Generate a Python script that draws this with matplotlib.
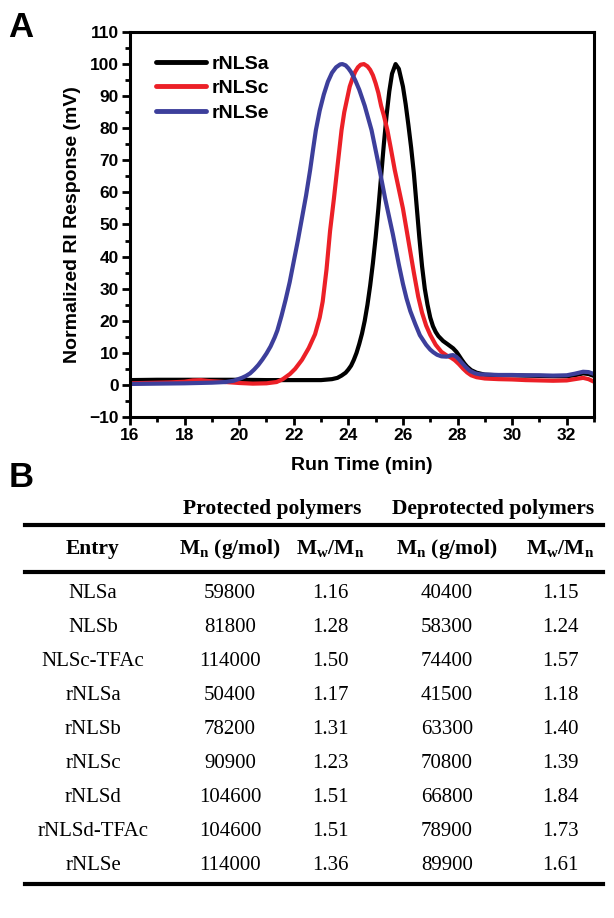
import matplotlib
matplotlib.use("Agg")
import matplotlib.pyplot as plt
from matplotlib.lines import Line2D
from matplotlib.ticker import MultipleLocator

plt.rcParams['font.family'] = ['Liberation Sans', 'DejaVu Sans']
plt.rcParams['mathtext.fontset'] = 'custom'
plt.rcParams['mathtext.rm'] = 'Liberation Serif'
plt.rcParams['mathtext.bf'] = 'Liberation Serif:bold'

# ---- panel A: GPC traces ----
t_a = [16.0, 17.0, 18.0, 19.0, 20.0, 21.0, 22.0, 23.0, 23.4, 23.6, 23.75, 23.9,
       24.0, 24.1, 24.2, 24.3, 24.4, 24.5, 24.6, 24.7, 24.8, 24.9, 25.0, 25.1,
       25.2, 25.3, 25.4, 25.5, 25.6, 25.73, 25.85, 26.0, 26.1, 26.2, 26.3, 26.4,
       26.5, 26.6, 26.7, 26.8, 26.9, 27.0, 27.1, 27.2, 27.3, 27.47, 27.65, 27.84,
       27.96, 28.05, 28.15, 28.25, 28.35, 28.5, 28.7, 29.0, 29.5, 30.0, 30.5,
       31.0, 31.5, 32.0, 32.3, 32.6, 32.8, 33.0]
v_a = [1.5, 1.6, 1.6, 1.6, 1.6, 1.5, 1.5, 1.5, 1.8, 2.2, 2.9, 3.8,
       4.8, 6.0, 7.8, 10.0, 12.8, 16.0, 20.0, 25.0, 31.0, 38.0, 46.0, 55.0,
       65.0, 75.0, 84.0, 91.5, 97.0, 100.0, 98.5, 93.0, 87.5, 81.0, 74.0, 66.0,
       56.0, 46.0, 37.0, 30.0, 25.0, 21.0, 18.3, 16.5, 15.2, 13.7, 12.6, 11.4,
       10.3, 9.2, 7.9, 6.7, 5.7, 4.6, 3.8, 3.2, 3.0, 3.0, 2.9,
       2.8, 2.7, 2.7, 3.0, 3.6, 3.4, 2.8]

t_c = [16.0, 16.5, 17.0, 17.5, 18.0, 18.3, 18.6, 18.9, 19.5, 20.0, 20.5, 21.0,
       21.37, 21.6, 21.86, 22.05, 22.3, 22.55, 22.78, 22.95, 23.06, 23.2, 23.33,
       23.47, 23.6, 23.75, 23.85, 23.95, 24.05, 24.15, 24.25, 24.35, 24.45, 24.57,
       24.7, 24.8, 24.9, 25.0, 25.1, 25.2, 25.3, 25.43, 25.55, 25.7, 25.85, 26.0,
       26.2, 26.4, 26.56, 26.7, 26.85, 27.0, 27.2, 27.41, 27.6, 27.78, 27.9, 28.05,
       28.2, 28.35, 28.5, 28.7, 29.0, 29.5, 30.0, 30.5, 31.0, 31.5, 32.0, 32.3,
       32.6, 32.8, 33.0]
v_c = [0.5, 0.6, 0.7, 0.8, 1.0, 1.4, 1.5, 1.2, 0.9, 0.6, 0.4, 0.5,
       0.9, 1.8, 3.4, 5.0, 7.8, 11.5, 15.8, 21.0, 26.0, 36.0, 48.0,
       58.0, 68.0, 79.4, 85.0, 89.0, 93.0, 95.5, 97.6, 99.0, 99.8, 100.0,
       99.3, 98.2, 96.5, 94.0, 91.0, 87.0, 84.0, 79.4, 74.0, 67.0, 61.0, 55.0,
       45.0, 35.0, 27.5, 22.5, 18.5, 15.6, 12.5, 10.3, 9.2, 8.4, 7.7, 6.5,
       5.1, 3.9, 3.0, 2.4, 2.0, 1.8, 1.7, 1.5, 1.4, 1.3, 1.4, 1.8,
       2.2, 1.8, 1.0]

t_e = [16.0, 17.0, 18.0, 19.0, 19.5, 19.8, 20.1, 20.25, 20.4, 20.55, 20.7, 20.85,
       21.0, 21.15, 21.3, 21.4, 21.55, 21.7, 21.85, 22.0, 22.15, 22.3, 22.45,
       22.6, 22.7, 22.81, 22.95, 23.1, 23.25, 23.4, 23.55, 23.7, 23.78, 23.9,
       24.0, 24.1, 24.25, 24.4, 24.6, 24.85, 25.1, 25.35, 25.63, 25.85, 26.0,
       26.13, 26.27, 26.45, 26.62, 26.85, 27.0, 27.11, 27.25, 27.41, 27.6, 27.75,
       27.84, 27.95, 28.05, 28.15, 28.3, 28.45, 28.65, 28.82, 29.5, 30.0, 30.5,
       31.0, 31.5, 32.0, 32.3, 32.6, 32.8, 33.0]
v_e = [0.3, 0.4, 0.5, 0.7, 0.9, 1.3, 2.2, 2.8, 3.6, 4.8, 6.2, 7.9,
       9.8, 12.0, 14.8, 17.0, 21.5, 26.5, 32.0, 38.5, 45.0, 52.0, 59.0,
       67.0, 73.0, 79.4, 85.5, 90.5, 94.5, 97.3, 99.0, 99.9, 100.0, 99.6,
       98.7, 97.5, 95.0, 92.0, 87.0, 79.4, 69.0, 58.0, 47.0, 37.5, 31.5,
       27.0, 23.0, 19.0, 15.5, 12.5, 11.0, 10.2, 9.4, 8.9, 8.8, 9.2,
       9.3, 8.8, 8.0, 7.0, 5.6, 4.4, 3.6, 3.3, 3.1, 3.1, 3.0,
       3.0, 2.9, 3.0, 3.5, 4.1, 4.0, 3.4]

# ---- panel B: table ----
groups = ["Protected polymers", "Deprotected polymers"]
col_heads = ["Entry", r"M$_{\mathbf{n}}$ (g/mol)", r"M$_{\mathbf{w}}$/M$_{\mathbf{n}}$",
             r"M$_{\mathbf{n}}$ (g/mol)", r"M$_{\mathbf{w}}$/M$_{\mathbf{n}}$"]
entries = ["NLSa", "NLSb", "NLSc-TFAc", "rNLSa", "rNLSb", "rNLSc", "rNLSd",
           "rNLSd-TFAc", "rNLSe"]
mn_prot = ["59800", "81800", "114000", "50400", "78200", "90900", "104600",
           "104600", "114000"]
pdi_prot = ["1.16", "1.28", "1.50", "1.17", "1.31", "1.23", "1.51", "1.51", "1.36"]
mn_deprot = ["40400", "58300", "74400", "41500", "63300", "70800", "66800",
             "78900", "89900"]
pdi_deprot = ["1.15", "1.24", "1.57", "1.18", "1.40", "1.39", "1.84", "1.73", "1.61"]

W, H = 614, 918
fig = plt.figure(figsize=(W / 100, H / 100), dpi=100)
fig.patch.set_facecolor('white')

ax = fig.add_axes([130 / W, 1 - 417 / H, 464 / W, 385 / H])
style = dict(lw=3, solid_joinstyle='round', solid_capstyle='round')
ax.plot(t_a, v_a, color='black', label='rNLSa', **style)
ax.plot(t_c, v_c, color='#ec2027', label='rNLSc', **style)
ax.plot(t_e, v_e, color='#3d3f9b', label='rNLSe', **style)

ax.set_xlim(16, 33)
ax.set_ylim(-10, 110)
ax.xaxis.set_major_locator(MultipleLocator(2))
ax.xaxis.set_minor_locator(MultipleLocator(1))
ax.yaxis.set_major_locator(MultipleLocator(10))
ax.yaxis.set_minor_locator(MultipleLocator(5))
for s in ax.spines.values():
    s.set_linewidth(2.2)
ax.tick_params(which='major', length=6, width=2, pad=2, labelsize=12.5)
ax.tick_params(which='minor', length=3.5, width=2)
for lab in ax.get_xticklabels() + ax.get_yticklabels():
    lab.set_fontweight('bold')
ax.set_xlabel('Run Time (min)', fontsize=14, fontweight='bold', labelpad=10)
ax.set_ylabel('Normalized RI Response (mV)', fontsize=14, fontweight='bold', labelpad=6)

leg = ax.legend(loc='upper left', bbox_to_anchor=(0.055, 0.94), frameon=False,
                handlelength=2.6, handletextpad=0.3, labelspacing=0.35,
                borderaxespad=0, borderpad=0,
                prop={'weight': 'bold', 'size': 14})
for h in leg.get_lines():
    h.set_linewidth(3.5)

fig.text(8 / W, 1 - 37 / H, 'A', fontsize=25, fontweight='bold', ha='left', va='baseline')
fig.text(9 / W, 1 - 487 / H, 'B', fontsize=25, fontweight='bold', ha='left', va='baseline')

# table drawn in pixel coordinates
tb = fig.add_axes([0, 0, 1, 1])
tb.set_xlim(0, W)
tb.set_ylim(H, 0)
tb.axis('off')
tb.patch.set_alpha(0)

serif = 'Liberation Serif'
col_x = [93, 230, 330, 447, 560]
group_x = [272, 493]
for g, gx in zip(groups, group_x):
    tb.text(gx, 509, g, ha='center', va='center', family=serif,
            fontsize=15.5, fontweight='bold')
for h, cx in zip(col_heads, col_x):
    tb.text(cx, 549, h, ha='center', va='center', family=serif,
            fontsize=15.5, fontweight='bold')

row_y0, row_dy = 594, 34.0
columns = [entries, mn_prot, pdi_prot, mn_deprot, pdi_deprot]
for i in range(len(entries)):
    y = row_y0 + i * row_dy
    for col, cx in zip(columns, col_x):
        tb.text(cx, y, col[i], ha='center', va='center', family=serif, fontsize=15)

for ly in [525, 572, 884]:
    tb.add_line(Line2D([25, 603], [ly, ly], color='black', lw=3))

fig.savefig('out.png', dpi=100)
